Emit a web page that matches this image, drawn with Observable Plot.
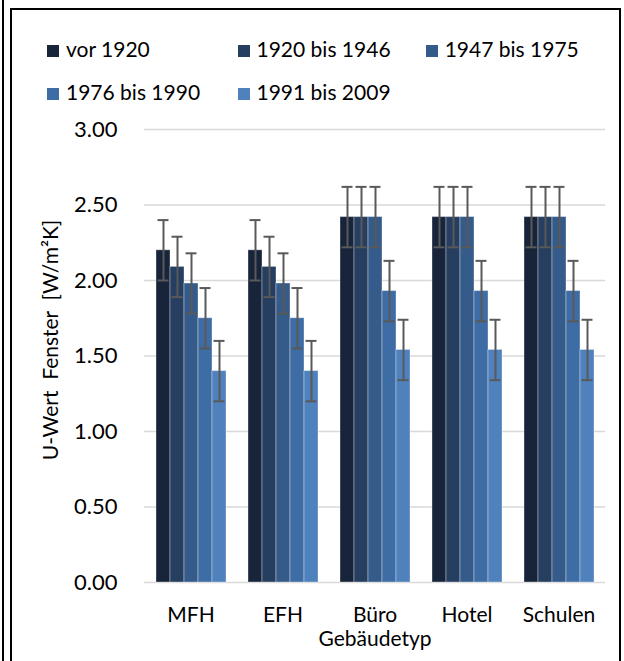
<!DOCTYPE html>
<html>
<head>
<meta charset="utf-8">
<script src="https://cdn.jsdelivr.net/npm/d3@7"></script>
<script src="https://cdn.jsdelivr.net/npm/@observablehq/plot@0.6"></script>
<style>
  html, body { margin: 0; padding: 0; background: white; }
  #wrap { position: relative; width: 624px; height: 661px; overflow: hidden; font-family: Lato, "Open Sans", sans-serif; color: #000; }
  #wrap svg { position: absolute; left: 0; top: 0; }
  .outer { position: absolute; left: 1.5px; top: 0; width: 2px; height: 661px; background: #000; }
  .frame { position: absolute; left: 10px; top: 7.5px; width: 607px; height: 700px; border: 2.2px solid #000; border-bottom: none; }
  .lg { position: absolute; font-size: 21px; line-height: 21px; white-space: nowrap; }
  .lg .sw { display: inline-block; width: 12px; height: 12px; margin-right: 7px; vertical-align: 0px; }
  .ylab { position: absolute; left: 49px; top: 340px; transform: translate(-50%, -50%) rotate(-90deg); font-size: 21px; line-height: 21px; white-space: pre; }
  .xlab { position: absolute; left: 375px; top: 627px; transform: translateX(-50%); font-size: 21px; line-height: 21px; white-space: nowrap; }
</style>
</head>
<body>
<div id="wrap">
  <div class="outer"></div>
  <div class="frame"></div>
</div>
<script>
const categories = ["MFH", "EFH", "Büro", "Hotel", "Schulen"];
const series = ["vor 1920", "1920 bis 1946", "1947 bis 1975", "1976 bis 1990", "1991 bis 2009"];
const colors = ["#17243a", "#263e60", "#345b89", "#3e6ca4", "#4f81bd"];
const valuesMFH = [2.20, 2.09, 1.98, 1.75, 1.40];
const valuesEFH = [2.20, 2.09, 1.98, 1.75, 1.40];
const valuesBuero = [2.42, 2.42, 2.42, 1.93, 1.54];
const valuesHotel = [2.42, 2.42, 2.42, 1.93, 1.54];
const valuesSchulen = [2.42, 2.42, 2.42, 1.93, 1.54];
const errorAmount = [0.2, 0.2, 0.2, 0.2, 0.2];
const yTicks = [0, 0.5, 1.0, 1.5, 2.0, 2.5, 3.0];
const yLabel = "U-Wert  Fenster  [W/m²K]";
const xLabel = "Gebäudetyp";

const valueTable = [valuesMFH, valuesEFH, valuesBuero, valuesHotel, valuesSchulen];
const data = [];
categories.forEach((c, i) => {
  series.forEach((s, j) => {
    const v = valueTable[i][j];
    const e = errorAmount[j];
    data.push({cat: c, series: s, value: v, lo: v - e, hi: v + e});
  });
});

const W = 624, H = 661;
const margins = {marginTop: 129, marginBottom: 79, marginLeft: 144, marginRight: 19};

const wrap = document.getElementById("wrap");

// background: gridlines + y axis
const bg = Plot.plot({
  width: W, height: H, ...margins,
  style: {background: "transparent", fontFamily: "Lato, 'Open Sans', sans-serif", fontSize: "22px", color: "#000", overflow: "visible"},
  y: {domain: [0, 3], ticks: yTicks, tickFormat: d3.format(".2f"), tickSize: 0, tickPadding: 27, label: null},
  marks: [
    Plot.ruleY(yTicks, {stroke: "#d9d9d9", strokeWidth: 1.6})
  ]
});
wrap.appendChild(bg);

// foreground: grouped bars with error bars
const fg = Plot.plot({
  width: W, height: H, ...margins,
  style: {background: "transparent", fontFamily: "Lato, 'Open Sans', sans-serif", fontSize: "21px", color: "#000", overflow: "visible"},
  fx: {domain: categories, paddingInner: 0.226, paddingOuter: 0.113, tickSize: 0, tickPadding: 25, label: null},
  x: {domain: series, padding: 0, axis: null},
  y: {domain: [0, 3], axis: null},
  color: {domain: series, range: colors},
  marks: [
    Plot.barY(data, {fx: "cat", x: "series", y: "value", fill: "series", stroke: "white", strokeOpacity: 0.35, strokeWidth: 1}),
    Plot.ruleX(data, {fx: "cat", x: "series", y1: "lo", y2: "hi", stroke: "#595959", strokeWidth: 2}),
    Plot.tickY(data, {fx: "cat", x: "series", y: "hi", stroke: "#595959", strokeWidth: 2, insetLeft: 1.5, insetRight: 1.5}),
    Plot.tickY(data, {fx: "cat", x: "series", y: "lo", stroke: "#595959", strokeWidth: 2, insetLeft: 1.5, insetRight: 1.5})
  ]
});
wrap.appendChild(fg);

// legend
const legendPos = [[47, 37.5], [237.5, 37.5], [425.7, 37.5], [47, 80.5], [237.5, 80.5]];
series.forEach((s, i) => {
  const d = document.createElement("div");
  d.className = "lg";
  d.style.left = legendPos[i][0] + "px";
  d.style.top = legendPos[i][1] + "px";
  const sw = document.createElement("span");
  sw.className = "sw";
  sw.style.background = colors[i];
  d.appendChild(sw);
  d.appendChild(document.createTextNode(s));
  wrap.appendChild(d);
});

const yl = document.createElement("div");
yl.className = "ylab";
yl.textContent = yLabel;
wrap.appendChild(yl);

const xl = document.createElement("div");
xl.className = "xlab";
xl.textContent = xLabel;
wrap.appendChild(xl);
</script>
</body>
</html>
